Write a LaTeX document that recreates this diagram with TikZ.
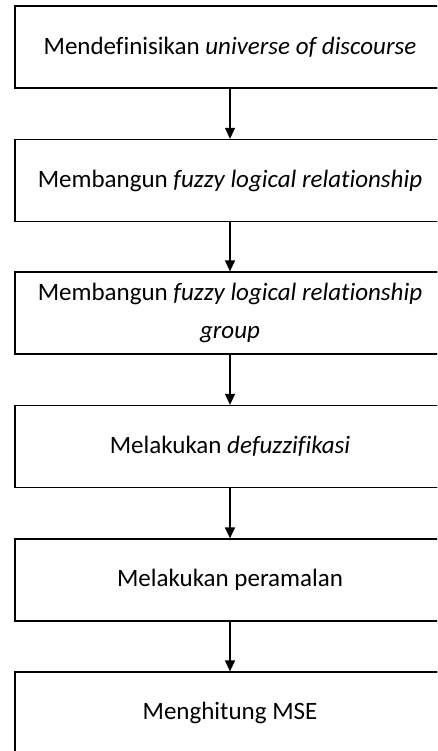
\documentclass[tikz,border=0pt]{standalone}
\usepackage{fontspec}
\setmainfont[Ligatures=NoCommon]{Carlito}
\usetikzlibrary{arrows.meta}
\begin{document}
\begin{tikzpicture}[x=1pt,y=-1pt,
  stepbox/.style={draw,line width=1.3pt,minimum width=430pt,minimum height=82pt,inner sep=0pt,align=center,font=\fontsize{25}{38}\selectfont},
  flow/.style={line width=1.3pt,-{Triangle[length=11pt,width=10pt]}}]
\useasboundingbox (0,0) rectangle (437,751);
\clip (0,0) rectangle (437,751);
\node[stepbox] (a) at (230,47) {Mendefinisikan \textit{universe of discourse}};
\node[stepbox] (b) at (230,180.5) {Membangun \textit{fuzzy logical relationship}};
\node[stepbox] (c) at (230,313) {Membangun \textit{fuzzy logical relationship}\\\textit{group}};
\node[stepbox] (d) at (230,446.5) {Melakukan \textit{defuzzifikasi}};
\node[stepbox] (e) at (230,580) {Melakukan peramalan};
\node[stepbox] (f) at (230,713) {Menghitung MSE};
\draw[flow] (a) -- (b);
\draw[flow] (b) -- (c);
\draw[flow] (c) -- (d);
\draw[flow] (d) -- (e);
\draw[flow] (e) -- (f);
\end{tikzpicture}
\end{document}
